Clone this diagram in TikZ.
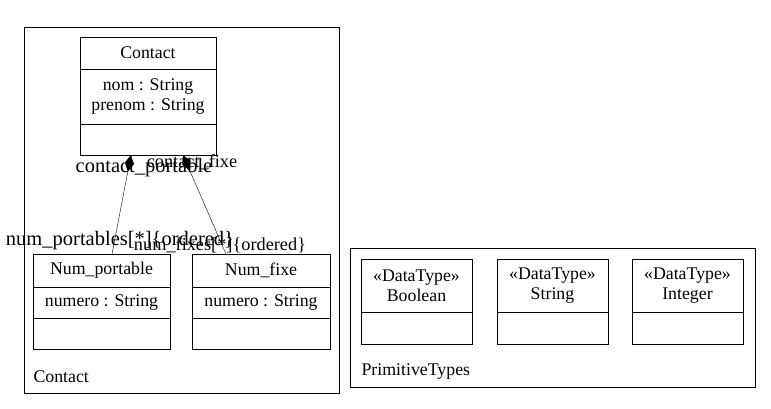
\documentclass[tikz,border=0pt]{standalone}
\usepackage{fontspec}
\setmainfont{Liberation Serif}
\usetikzlibrary{arrows.meta,calc}

\begin{document}
\begin{tikzpicture}[x=1pt, y=-1pt, font=\fontsize{17.8}{20}\selectfont,
  part/.style={draw, inner sep=0pt, outer sep=0pt, anchor=north west, align=center},
  role/.style={font=\fontsize{20.5}{22}\selectfont, inner sep=0pt},
  rolesmall/.style={font=\fontsize{18.3}{22}\selectfont, inner sep=0pt},
  assoc/.style={{Diamond[length=17pt,width=9pt]}-}]
  \useasboundingbox (0,0) rectangle (771,408);

  % Package Contact
  \draw (24,27) rectangle (339,393);
  \node[anchor=west] (contact-pkg) at (30,377) {Contact};

  % Class Contact
  \node[part, minimum width=136pt, minimum height=32pt] (contact) at (80,37) {Contact};
  \node[part, minimum width=136pt, minimum height=55pt] (contact-attr) at (contact.south west) {nom : String\\prenom : String};
  \node[part, minimum width=136pt, minimum height=31pt] (contact-ops) at (contact-attr.south west) {};

  % Class Num_portable
  \node[part, minimum width=137pt, minimum height=33pt] (portable) at (33,254) {Num\_portable};
  \node[part, minimum width=137pt, minimum height=31pt] (portable-attr) at (portable.south west) {numero : String};
  \node[part, minimum width=137pt, minimum height=31pt] (portable-ops) at (portable-attr.south west) {};

  % Class Num_fixe
  \node[part, minimum width=138pt, minimum height=33pt] (fixe) at (192,254) {Num\_fixe};
  \node[part, minimum width=138pt, minimum height=31pt] (fixe-attr) at (fixe.south west) {numero : String};
  \node[part, minimum width=138pt, minimum height=31pt] (fixe-ops) at (fixe-attr.south west) {};

  % Compositions
  \draw[assoc] ($(contact-ops.south)+(-17,0)$) -- ($(portable.north)+(10.5,0)$);
  \draw[assoc] ($(contact-ops.south)+(35,0)$) -- ($(fixe.north)+(-35,0)$);

  % Role names
  \node[role] (role-cp) at (144,168) {contact\_portable};
  \node[rolesmall] (role-cf) at (192,162) {contact\_fixe};
  \node[role] (role-np) at (120,241) {num\_portables[*]\{ordered\}};
  \node[rolesmall] (role-nf) at (220,245) {num\_fixes[*]\{ordered\}};

  % Package PrimitiveTypes
  \draw (350,248) rectangle (755,387);
  \node[anchor=west] (prim-pkg) at (358,372) {PrimitiveTypes};

  \foreach \x/\name in {361/Boolean, 497/String, 632/Integer} {
    \node[part, minimum width=111pt, minimum height=53pt] (\name) at (\x,259) {«DataType»\\\name};
    \node[part, minimum width=111pt, minimum height=32pt] (\name-ops) at (\name.south west) {};
  }
\end{tikzpicture}
\end{document}
